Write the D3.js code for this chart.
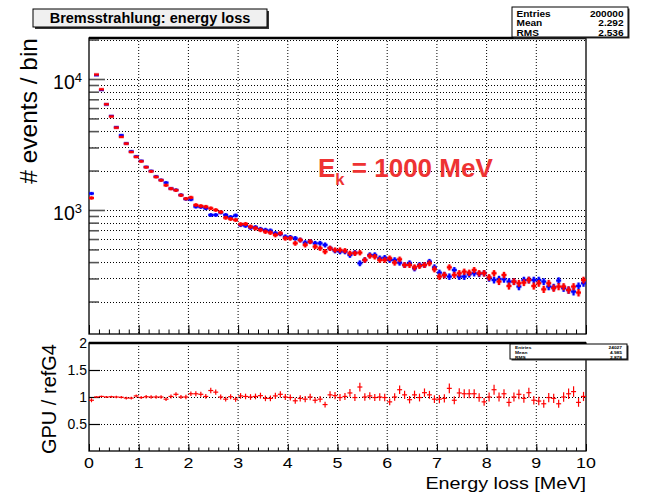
<!DOCTYPE html>
<html>
<head>
<meta charset="utf-8">
<script src="https://cdn.jsdelivr.net/npm/d3@7"></script>
<style>
  body { margin: 0; background: #fff; }
  svg { display: block; }
  text { font-family: "Liberation Sans", Arial, Helvetica, sans-serif; }
</style>
</head>
<body>
<svg id="chart" width="646" height="498"></svg>
<script>
// Histogram binning: 100 bins over 0-10 MeV
const xMin = 0, xMax = 10, binWidth = 0.1;

// Counts per bin, GPU simulation (red)
const gpuCounts = [
  1235,10820,8340,6410,5170,4250,3610,3210,2770,2540,
  2350,2120,1970,1786,1686,1544,1454,1414,1295,1220,
  1246,1092,1073,1060,1030,1000,965,873,854,839,
  778,782,746,725,704,683,671,644,664,608,
  608,557,590,541,573,525,510,481,510,495,
  495,489,467,467,472,415,446,440,415,415,
  428,396,420,380,380,365,374,380,392,353,
  310,319,365,319,329,338,332,348,329,329,
  306,329,284,319,263,284,276,279,292,263,
  276,248,276,253,260,260,245,260,234,292
];

// Counts per bin, reference Geant4 (blue)
const refCounts = [
  1336,10690,8240,6390,5220,4280,3720,3220,2800,2560,
  2370,2130,1985,1800,1694,1616,1459,1421,1302,1213,
  1203,1060,1054,1030,916,916,957,916,884,908,
  768,759,733,738,716,704,695,664,656,625,
  619,608,590,563,573,557,557,541,510,489,
  481,481,453,472,392,415,453,453,428,432,
  415,415,396,380,392,359,380,380,403,365,
  332,319,310,348,310,310,323,329,325,329,
  301,292,297,296,284,284,260,292,292,292,
  292,284,260,257,289,253,245,238,263,276
];

// GPU / refG4 ratio per bin
const ratioValues = [
  0.94,1.00,1.01,1.00,1.005,1.00,0.995,0.98,0.98,1.02,
  0.99,1.005,1.00,1.00,1.00,0.96,1.01,1.05,1.00,1.00,
  1.06,1.06,1.05,1.01,1.12,1.09,1.00,0.96,1.005,0.96,
  1.02,1.01,1.00,1.01,1.025,0.975,0.975,1.02,1.05,1.00,
  0.99,0.93,0.975,0.96,1.00,0.94,0.96,0.86,1.04,1.025,
  0.99,1.01,1.075,0.99,1.185,1.00,1.02,0.99,1.00,0.99,
  0.91,1.00,1.135,1.04,0.95,1.04,0.99,1.08,1.04,0.96,
  0.96,0.975,1.16,0.94,1.075,1.06,1.06,1.06,0.99,0.91,
  1.00,1.135,1.00,1.06,0.90,1.00,1.05,0.975,1.08,0.94,
  0.925,0.875,0.99,0.975,0.875,1.00,1.06,1.10,0.90,1.01
];

// Axis ticks and labels
const xMajorTicks = [0,1,2,3,4,5,6,7,8,9,10];
const logMajorTicks = [1000, 10000];
const logMinorTicks = [200,300,400,500,600,700,800,900,
                       2000,3000,4000,5000,6000,7000,8000,9000,20000];
const ratioTicks = [0.5, 1, 1.5];
const ratioLabels = ["0.5", "1", "1.5", "2"];
const ratioLabelValues = [0.5, 1, 1.5, 2];

// Text blocks
const titleText = "Bremsstrahlung: energy loss";
const statsMain = [["Entries", "200000"], ["Mean", "2.292"], ["RMS", "2.536"]];
const statsRatio = [["Entries", "24027"], ["Mean", "4.985"], ["RMS", "2.878"]];

const svg = d3.select("#chart");

// Pad geometry
const left = 89, right = 586;
const topPad = { top: 38, bottom: 334 };
const lowPad = { top: 343, bottom: 451 };

const x = d3.scaleLinear([xMin, xMax], [left, right]);
const yTop = d3.scaleLog([113, 20560], [topPad.bottom, topPad.top]);
const yLow = d3.scaleLinear([0, 2], [lowPad.bottom, lowPad.top]);

const bins = d3.range(gpuCounts.length).map(i => xMin + i * binWidth);
const minorX = d3.range(0, 50 + 1).map(i => i * 0.2);

// text drawn with a slight horizontal stretch (wide sans lettering)
function wideText(parent, px, py, str, size, sx, anchor) {
  const g = parent.append("g").attr("transform", `translate(${px},${py}) scale(${sx},1)`);
  return g.append("text").attr("text-anchor", anchor || "start")
    .attr("font-size", size).text(str);
}

// ---- grids ----
function vGrid(y0, y1) {
  svg.append("g").selectAll("line")
    .data(xMajorTicks.filter(t => t > xMin && t < xMax))
    .join("line")
    .attr("x1", d => x(d)).attr("x2", d => x(d))
    .attr("y1", y0).attr("y2", y1)
    .attr("stroke", "#000").attr("stroke-width", 1)
    .attr("stroke-dasharray", "1,2");
}
vGrid(topPad.top, topPad.bottom);
vGrid(lowPad.top, lowPad.bottom);

svg.append("g").selectAll("line")
  .data(logMajorTicks.concat(logMinorTicks))
  .join("line")
  .attr("x1", left).attr("x2", right)
  .attr("y1", d => Math.round(yTop(d)) + 0.5).attr("y2", d => Math.round(yTop(d)) + 0.5)
  .attr("stroke", "#000").attr("stroke-width", 1)
  .attr("stroke-dasharray", "1,2");

svg.append("g").selectAll("line")
  .data(ratioTicks)
  .join("line")
  .attr("x1", left).attr("x2", right)
  .attr("y1", d => Math.round(yLow(d)) + 0.5).attr("y2", d => Math.round(yLow(d)) + 0.5)
  .attr("stroke", "#000").attr("stroke-width", 1)
  .attr("stroke-dasharray", "1,2");

// ---- axes (ticks) ----
function xTicksAt(yPos, major, minor) {
  svg.append("g").attr("transform", `translate(0,${yPos})`)
    .call(d3.axisTop(x).tickValues(xMajorTicks).tickSize(major).tickFormat(""))
    .call(g => g.select(".domain").remove());
  svg.append("g").attr("transform", `translate(0,${yPos})`)
    .call(d3.axisTop(x).tickValues(minorX).tickSize(minor).tickFormat(""))
    .call(g => g.select(".domain").remove());
}
xTicksAt(topPad.bottom, 9, 4.5);
xTicksAt(lowPad.bottom, 7, 3.5);

svg.append("g").attr("transform", `translate(${left},0)`)
  .call(d3.axisRight(yTop).tickValues(logMajorTicks).tickSize(16).tickFormat(""))
  .call(g => g.select(".domain").remove())
  .call(g => g.selectAll("line").attr("stroke", "#555").attr("stroke-width", 1.6));
svg.append("g").attr("transform", `translate(${left},0)`)
  .call(d3.axisRight(yTop).tickValues(logMinorTicks).tickSize(10).tickFormat(""))
  .call(g => g.select(".domain").remove())
  .call(g => g.selectAll("line").attr("stroke", "#555").attr("stroke-width", 1.6));

svg.append("g").attr("transform", `translate(${left},0)`)
  .call(d3.axisRight(yLow).tickValues(ratioTicks).tickSize(11).tickFormat(""))
  .call(g => g.select(".domain").remove())
  .call(g => g.selectAll("line").attr("stroke-width", 1.2));

// ---- frames ----
function frame(p) {
  svg.append("rect")
    .attr("x", left).attr("y", p.top)
    .attr("width", right - left).attr("height", p.bottom - p.top)
    .attr("fill", "none").attr("stroke", "#000").attr("stroke-width", 1.3);
  svg.append("line")
    .attr("x1", left).attr("x2", right).attr("y1", p.top).attr("y2", p.top)
    .attr("stroke", "#000").attr("stroke-width", 2.4);
}
frame(topPad);
frame(lowPad);

// ---- tick labels ----
const xLabelG = svg.append("g");
xMajorTicks.forEach(t => wideText(xLabelG, x(t), 468, t, 15.5, 1.15, "middle"));

const logLabel = svg.append("g").selectAll("text")
  .data(logMajorTicks)
  .join("text")
  .attr("x", 82).attr("y", d => yTop(d) + 10)
  .attr("text-anchor", "end")
  .attr("font-size", 19.5);
logLabel.append("tspan").text("10");
logLabel.append("tspan").attr("font-size", 13).attr("dy", -7)
  .text(d => Math.round(Math.log10(d)));

svg.append("g").selectAll("text")
  .data(ratioLabelValues)
  .join("text")
  .attr("x", 87).attr("y", d => yLow(d) + 5)
  .attr("text-anchor", "end")
  .attr("font-size", 14)
  .text((d, i) => ratioLabels[i]);

// ---- axis titles ----
svg.append("text")
  .attr("transform", `translate(37,${topPad.top}) rotate(-90)`)
  .attr("text-anchor", "end")
  .attr("font-size", 24.5)
  .text("# events / bin");

svg.append("text")
  .attr("transform", `translate(56,${lowPad.top + 1}) rotate(-90)`)
  .attr("text-anchor", "end")
  .attr("font-size", 20)
  .text("GPU / refG4");

wideText(svg, 586, 489, "Energy loss [MeV]", 16.5, 1.2, "end");

// ---- histogram markers ----
function drawHist(counts, color) {
  const halo = svg.append("g").attr("stroke", color).attr("stroke-width", 3.6)
    .attr("stroke-opacity", 0.3);
  const g = svg.append("g").attr("stroke", color).attr("stroke-width", 2);
  counts.forEach((v, i) => {
    const lo = bins[i], err = Math.sqrt(v);
    const cy = yTop(v);
    [halo, g].forEach(layer => {
      layer.append("line")
        .attr("x1", x(lo)).attr("x2", x(lo + binWidth))
        .attr("y1", cy).attr("y2", cy);
      layer.append("line")
        .attr("x1", x(lo + binWidth / 2)).attr("x2", x(lo + binWidth / 2))
        .attr("y1", yTop(v - err)).attr("y2", yTop(v + err));
    });
  });
}
drawHist(refCounts, "#0000ff");
drawHist(gpuCounts, "#ff0000");

// ratio markers with propagated statistical errors
const rg = svg.append("g").attr("stroke", "#ff0000").attr("stroke-width", 1.2);
ratioValues.forEach((r, i) => {
  const lo = bins[i];
  const err = r * Math.sqrt(1 / gpuCounts[i] + 1 / refCounts[i]);
  rg.append("line")
    .attr("x1", x(lo)).attr("x2", x(lo + binWidth))
    .attr("y1", yLow(r)).attr("y2", yLow(r));
  rg.append("line")
    .attr("x1", x(lo + binWidth / 2)).attr("x2", x(lo + binWidth / 2))
    .attr("y1", yLow(r - err)).attr("y2", yLow(r + err));
});

// ---- energy annotation ----
const ekG = svg.append("g").attr("transform", "translate(318,177) scale(1.04,1)");
const ek = ekG.append("text")
  .attr("fill", "#ee3333")
  .attr("font-weight", "bold")
  .attr("font-size", 25);
ek.append("tspan").text("E");
ek.append("tspan").attr("font-size", 16).attr("dy", 8).text("k");
ek.append("tspan").attr("dy", -8).text(" = 1000 MeV");

// ---- title box ----
svg.append("rect").attr("x", 35).attr("y", 11).attr("width", 234).attr("height", 18)
  .attr("fill", "#333");
svg.append("rect").attr("x", 33).attr("y", 9).attr("width", 234).attr("height", 18)
  .attr("fill", "#f0f0f0").attr("stroke", "#000").attr("stroke-width", 1);
svg.append("text")
  .attr("x", 150).attr("y", 23)
  .attr("text-anchor", "middle")
  .attr("font-weight", "bold")
  .attr("font-size", 14.5)
  .text(titleText);

// ---- statistics boxes ----
function statsBox(x0, y0, w, h, rows, fs, sx, lineH, firstBase, pad) {
  svg.append("rect").attr("x", x0 + 1.5).attr("y", y0 + 1.5).attr("width", w).attr("height", h)
    .attr("fill", "#333");
  svg.append("rect").attr("x", x0).attr("y", y0).attr("width", w).attr("height", h)
    .attr("fill", "#fff").attr("stroke", "#000").attr("stroke-width", 1);
  const g = svg.append("g").attr("font-weight", "bold");
  rows.forEach((r, i) => {
    const by = y0 + firstBase + i * lineH;
    wideText(g, x0 + pad, by, r[0], fs, sx, "start");
    wideText(g, x0 + w - pad, by, r[1], fs, sx, "end");
  });
}
statsBox(512, 7, 116, 30, statsMain, 8.4, 1.2, 9.5, 9.8, 4.5);
statsBox(510, 344, 117, 15, statsRatio, 4.4, 1.1, 4.9, 4.8, 5);
</script>
</body>
</html>
